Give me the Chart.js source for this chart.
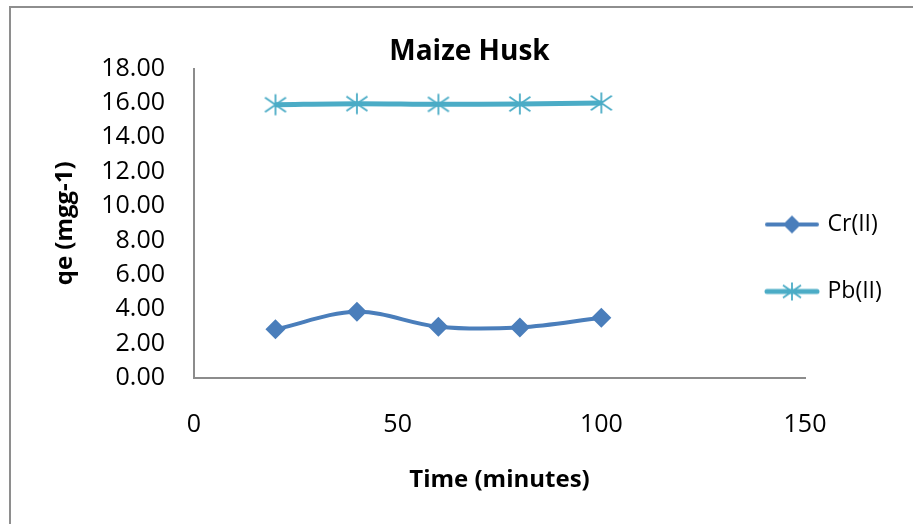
<!DOCTYPE html>
<html>
<head>
<meta charset="utf-8">
<script src="https://cdn.jsdelivr.net/npm/chart.js@4.4.1/dist/chart.umd.min.js"></script>
<style>
html,body{margin:0;padding:0;background:#fff;}
#wrap{position:relative;width:913px;height:524px;overflow:hidden;}
#frame{position:absolute;left:9px;top:6px;width:950px;height:560px;border-left:2px solid #8e8e8e;border-top:2px solid #8e8e8e;pointer-events:none;}
canvas{display:block;}
</style>
</head>
<body>
<div id="wrap"><canvas id="c" width="913" height="524"></canvas><div id="frame"></div></div>
<script>
const chartTitle = 'Maize Husk';
const xTitle = 'Time (minutes)';
const yTitle = 'qe (mgg-1)';
const seriesNames = ['Cr(II)', 'Pb(II)'];
const times = [20, 40, 60, 80, 100];
const crValues = [2.83, 3.85, 2.98, 2.94, 3.50];
const pbValues = [15.90, 15.96, 15.92, 15.94, 16.00];
const xTicks = [0, 50, 100, 150];
const yTicks = [0, 2, 4, 6, 8, 10, 12, 14, 16, 18];

const crColor = '#4a7ebb';
const pbColor = '#4bacc6';
const FONT = "'Open Sans', 'DejaVu Sans', sans-serif";

function drawStar(g, cx, cy, r, color, lw) {
  g.strokeStyle = color; g.lineWidth = lw; g.lineCap = 'butt';
  g.beginPath();
  g.moveTo(cx, cy - r); g.lineTo(cx, cy + r);
  g.moveTo(cx - r, cy - r * 0.7); g.lineTo(cx + r, cy + r * 0.7);
  g.moveTo(cx - r, cy + r * 0.7); g.lineTo(cx + r, cy - r * 0.7);
  g.stroke();
}
function drawDiamond(g, cx, cy, r, color) {
  g.fillStyle = color;
  g.beginPath();
  g.moveTo(cx, cy - r); g.lineTo(cx + r, cy); g.lineTo(cx, cy + r); g.lineTo(cx - r, cy);
  g.closePath(); g.fill();
}
function makeCanvas(w, h) { const c = document.createElement('canvas'); c.width = w; c.height = h; return c; }

const starMarker = makeCanvas(24, 24);
drawStar(starMarker.getContext('2d'), 12, 12, 10.5, pbColor, 1.8);

const crIcon = makeCanvas(56, 22);
(function(){ const g = crIcon.getContext('2d'); g.strokeStyle = crColor; g.lineWidth = 4; g.lineCap = 'round';
  g.beginPath(); g.moveTo(3, 11); g.lineTo(53, 11); g.stroke(); drawDiamond(g, 28, 11, 9, crColor); })();
const pbIcon = makeCanvas(56, 22);
(function(){ const g = pbIcon.getContext('2d'); g.strokeStyle = pbColor; g.lineWidth = 5; g.lineCap = 'round';
  g.beginPath(); g.moveTo(3, 11); g.lineTo(53, 11); g.stroke(); drawStar(g, 28, 11, 9, pbColor, 1.8); })();
const legendIcons = [crIcon, pbIcon];

const legendShift = {
  id: 'legendShift',
  afterLayout(chart) {
    const l = chart.legend;
    const h = l.bottom - l.top;
    l.left = chart.chartArea.right - 37 - l.options.labels.padding;
    l.right = chart.width;
    l.top = l.top - 4;
    l.bottom = l.top + h;
  }
};

new Chart(document.getElementById('c'), {
  type: 'line',
  data: {
    datasets: [
      {
        label: seriesNames[0],
        data: times.map((t, i) => ({x: t, y: crValues[i]})),
        borderColor: crColor, backgroundColor: crColor,
        borderWidth: 4, tension: 0.35,
        pointStyle: 'rectRot', pointRadius: 10, pointHoverRadius: 10,
        pointBackgroundColor: crColor, pointBorderColor: crColor, pointBorderWidth: 0
      },
      {
        label: seriesNames[1],
        data: times.map((t, i) => ({x: t, y: pbValues[i]})),
        borderColor: pbColor, backgroundColor: pbColor,
        borderWidth: 5, tension: 0.35,
        pointStyle: starMarker, pointRadius: 10, pointHoverRadius: 10
      }
    ]
  },
  options: {
    responsive: false, animation: false, devicePixelRatio: 1,
    layout: { padding: { left: 26, right: 0, top: 0, bottom: 0 } },
    plugins: {
      title: {
        display: true, text: chartTitle, color: '#000',
        font: { family: FONT, size: 28, weight: 'bold', lineHeight: 1.2 },
        padding: { top: 35, bottom: 0 }
      },
      legend: {
        position: 'right', maxWidth: 108,
        labels: {
          usePointStyle: true, pointStyleWidth: 48, boxHeight: 23, padding: 44,
          color: '#000', font: { family: FONT, size: 23 },
          generateLabels(chart) {
            const items = Chart.defaults.plugins.legend.labels.generateLabels(chart);
            items.forEach((it, i) => { it.pointStyle = legendIcons[i]; });
            return items;
          }
        }
      },
      tooltip: { enabled: false }
    },
    scales: {
      x: {
        type: 'linear', min: xTicks[0], max: xTicks[xTicks.length - 1],
        afterBuildTicks(s) { s.ticks = xTicks.map(v => ({value: v})); },
        afterFit(s) { s.height = 146; },
        grid: { display: false, drawTicks: false },
        border: { display: true, color: '#8c8c8c', width: 2 },
        ticks: { color: '#000', padding: 32, maxRotation: 0, font: { family: FONT, size: 25 } },
        title: { display: true, text: xTitle, color: '#000',
          font: { family: FONT, size: 24, weight: 'bold', lineHeight: 1.2 }, padding: { top: 0, bottom: 29 } }
      },
      y: {
        type: 'linear', min: yTicks[0], max: yTicks[yTicks.length - 1],
        afterBuildTicks(s) { s.ticks = yTicks.map(v => ({value: v})); },
        afterFit(s) { s.width = 168; },
        grid: { display: false, drawTicks: false },
        border: { display: true, color: '#8c8c8c', width: 2 },
        ticks: { color: '#000', padding: 29, font: { family: FONT, size: 25 }, callback: v => Number(v).toFixed(2) },
        title: { display: true, text: yTitle, color: '#000',
          font: { family: FONT, size: 24, weight: 'bold', lineHeight: 1.2 }, padding: { top: 25, bottom: 0 } }
      }
    }
  },
  plugins: [legendShift]
});
</script>
</body>
</html>
